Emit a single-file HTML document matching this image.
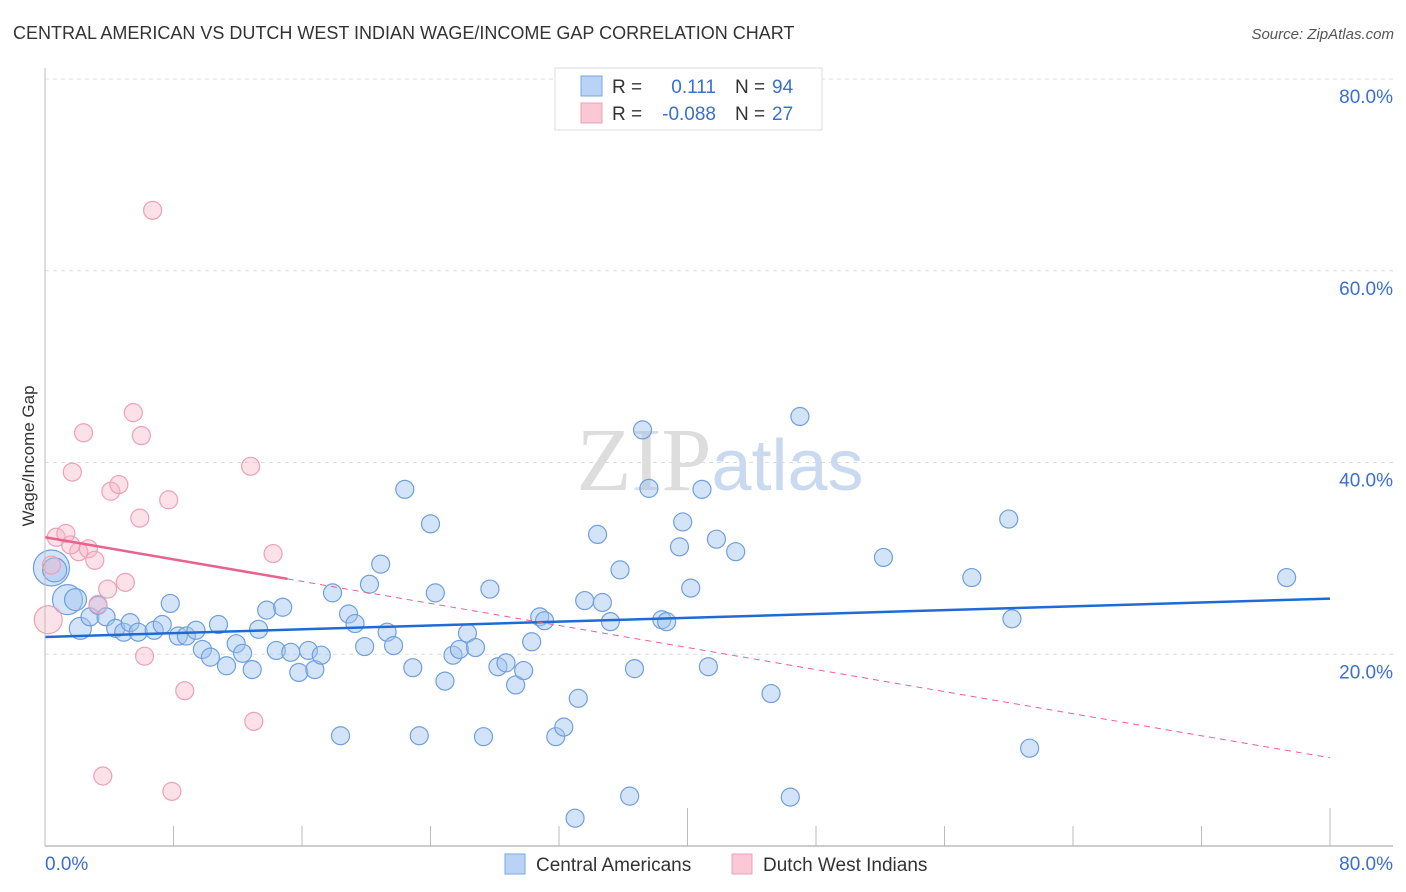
<!DOCTYPE html>
<html><head><meta charset="utf-8"><style>
body{margin:0;background:#fff;font-family:"Liberation Sans",sans-serif;}
svg{display:block}
</style></head><body>
<svg id="chart" width="1406" height="892">
<text x="13" y="39" font-size="18" fill="#333">CENTRAL AMERICAN VS DUTCH WEST INDIAN WAGE/INCOME GAP CORRELATION CHART</text>
<text x="1394" y="39" font-size="15" fill="#555" font-style="italic" text-anchor="end">Source: ZipAtlas.com</text>
<text x="0" y="0" transform="translate(34,456) rotate(-90)" font-size="17" fill="#333" text-anchor="middle">Wage/Income Gap</text>
<g id="grid"></g>
<text x="720" y="490" font-size="90" fill="#ddd" text-anchor="middle" font-family="Liberation Serif,serif">ZIP<tspan fill="#c9d9ef" font-family="Liberation Sans,sans-serif" font-size="72">atlas</tspan></text>
<g id="points"></g>
<g id="trends"></g>
<g id="axes"></g>
<g>
<rect x="555" y="68" width="267" height="62" fill="#fff" stroke="#ddd"/>
<rect x="581" y="76" width="21" height="20" fill="#b8d3f5" stroke="#7aa6e0"/>
<rect x="581" y="103" width="21" height="20" fill="#fac8d6" stroke="#eea0b6"/>
<text x="612" y="93" font-size="19" fill="#333">R =</text>
<text x="716" y="93" font-size="19" fill="#3a6fd0" text-anchor="end">0.111</text>
<text x="735" y="93" font-size="19" fill="#333">N =</text>
<text x="772" y="93" font-size="19" fill="#3a6fd0">94</text>
<text x="612" y="120" font-size="19" fill="#333">R =</text>
<text x="716" y="120" font-size="19" fill="#3a6fd0" text-anchor="end">-0.088</text>
<text x="735" y="120" font-size="19" fill="#333">N =</text>
<text x="772" y="120" font-size="19" fill="#3a6fd0">27</text>
</g>
<g>
<rect x="505" y="854" width="20" height="20" fill="#b8d3f5" stroke="#7aa6e0"/>
<text x="536" y="871" font-size="19" fill="#333">Central Americans</text>
<rect x="732" y="854" width="20" height="20" fill="#fac8d6" stroke="#eea0b6"/>
<text x="763" y="871" font-size="19" fill="#333">Dutch West Indians</text>
</g>
</svg>
<script>
const blueX=[0.4,0.6,1.4,1.9,2.2,2.8,3.3,3.8,4.4,4.9,5.3,5.8,6.8,7.3,7.8,8.3,8.8,9.4,9.8,10.3,10.8,11.3,11.9,12.3,12.9,13.3,13.8,14.4,14.8,15.3,15.8,16.4,16.8,17.2,17.9,18.4,18.9,19.3,19.9,20.2,20.9,21.3,21.7,22.4,22.9,23.3,24.0,24.3,24.9,25.4,25.8,26.3,26.8,27.3,27.7,28.2,28.7,29.3,29.8,30.3,30.8,31.1,31.8,32.3,33.2,33.0,33.6,34.4,34.7,35.2,35.8,36.4,36.7,37.2,37.6,38.4,38.7,39.5,39.7,40.2,40.9,41.3,41.8,43.0,45.2,46.4,47.0,52.2,57.7,60.0,60.2,61.3,77.3];
const blueY=[29.0,28.8,25.7,25.7,22.7,23.9,25.1,23.9,22.7,22.3,23.3,22.3,22.5,23.1,25.3,21.9,21.9,22.5,20.5,19.7,23.1,18.8,21.1,20.1,18.4,22.6,24.6,20.4,24.9,20.2,18.1,20.4,18.4,19.9,26.4,11.5,24.2,23.2,20.8,27.3,29.4,22.3,20.9,37.2,18.6,11.5,33.6,26.4,17.2,19.9,20.5,22.2,20.7,11.4,26.8,18.7,19.1,16.8,18.3,21.3,23.9,23.5,11.4,12.4,15.4,2.9,25.6,32.5,25.4,23.4,28.8,5.2,18.5,43.4,37.3,23.6,23.4,31.2,33.8,26.9,37.2,18.7,32.0,30.7,15.9,5.1,44.8,30.1,28.0,34.1,23.7,10.2,28.0];
const blueR=[18,12,15,11,11,9,9,9,9,9,9,9,9,9,9,9,9,9,9,9,9,9,9,9,9,9,9,9,9,9,9,9,9,9,9,9,9,9,9,9,9,9,9,9,9,9,9,9,9,9,9,9,9,9,9,9,9,9,9,9,9,9,9,9,9,9,9,9,9,9,9,9,9,9,9,9,9,9,9,9,9,9,9,9,9,9,9,9,9,9,9,9,9];
const pinkX=[0.4,0.2,0.7,1.3,1.7,2.1,2.4,2.7,3.1,3.3,3.6,3.9,4.1,4.6,5.0,5.5,5.9,6.0,6.2,6.7,7.7,7.9,8.7,12.8,13.0,14.2,1.6];
const pinkY=[29.3,23.6,32.2,32.6,39.0,30.7,43.1,31.0,29.8,25.2,7.3,26.8,37.0,37.7,27.5,45.2,34.2,42.8,19.8,66.3,36.1,5.7,16.2,39.6,13.0,30.5,31.4];
const pinkR=[9,14,9,9,9,9,9,9,9,9,9,9,9,9,9,9,9,9,9,9,9,9,9,9,9,9,9];
const yTicks=[20,40,60,80];
const yTickLabels=["20.0%","40.0%","60.0%","80.0%"];
const blueTrend=[21.8,25.8];
const pinkTrend=[32.2,9.2];
const pinkSolidEnd=15.1;
const NS="http://www.w3.org/2000/svg";
const sx=v=>45+v*(1285/80);
const sy=v=>846-v*(767/80);
function mk(tag,attrs,parent){const e=document.createElementNS(NS,tag);for(const k in attrs)e.setAttribute(k,attrs[k]);document.getElementById(parent).appendChild(e);return e;}
yTicks.forEach((t,i)=>{
 const l=mk('line',{x1:45,x2:1393,y1:sy(t),y2:sy(t),stroke:'#ddd','stroke-dasharray':'4,4'},'grid');
 
 
 const tx=mk('text',{x:1393,y:sy(t)+24,'font-size':19,fill:'#3a6fd0','text-anchor':'end'},'grid');
 tx.textContent=yTickLabels[i];
 
 
});
function dots(xs,ys,rs,fill,stroke,name){xs.forEach((x,i)=>{
 const c=mk('circle',{cx:sx(x),cy:sy(ys[i]),r:rs[i],fill:fill,stroke:stroke,'stroke-width':1.2},'points');
 
 
});}
dots(blueX,blueY,blueR,'rgba(160,196,240,0.45)','#6f9fdf','central-american-point');
dots(pinkX,pinkY,pinkR,'rgba(248,180,200,0.4)','#eea0b6','dutch-west-indian-point');
let t=mk('line',{x1:sx(0),y1:sy(blueTrend[0]),x2:sx(80),y2:sy(blueTrend[1]),stroke:'#1f6bd6','stroke-width':2.5},'trends');


const pAt=x=>pinkTrend[0]+(pinkTrend[1]-pinkTrend[0])*x/80;
t=mk('line',{x1:sx(0),y1:sy(pinkTrend[0]),x2:sx(pinkSolidEnd),y2:sy(pAt(pinkSolidEnd)),stroke:'#e8628c','stroke-width':2.5},'trends');


t=mk('line',{x1:sx(pinkSolidEnd),y1:sy(pAt(pinkSolidEnd)),x2:sx(80),y2:sy(pinkTrend[1]),stroke:'#e8628c','stroke-width':1,'stroke-dasharray':'6,5'},'trends');


let a=mk('line',{x1:45,y1:68,x2:45,y2:846,stroke:'#bbb'},'axes');


a=mk('line',{x1:45,y1:846,x2:1393,y2:846,stroke:'#bbb','stroke-width':1.5},'axes');


for(let i=0;i<=10;i++){const v=i*8;const tall=(i===5||i===10);
 const k=mk('line',{x1:sx(v),x2:sx(v),y1:tall?808:826,y2:846,stroke:'#bbb'},'axes');
 
 }
let lb=mk('text',{x:45,y:870,'font-size':19,fill:'#3a6fd0'},'axes');lb.textContent='0.0%';


lb=mk('text',{x:1393,y:870,'font-size':19,fill:'#3a6fd0','text-anchor':'end'},'axes');lb.textContent='80.0%';


</script>
</body></html>
